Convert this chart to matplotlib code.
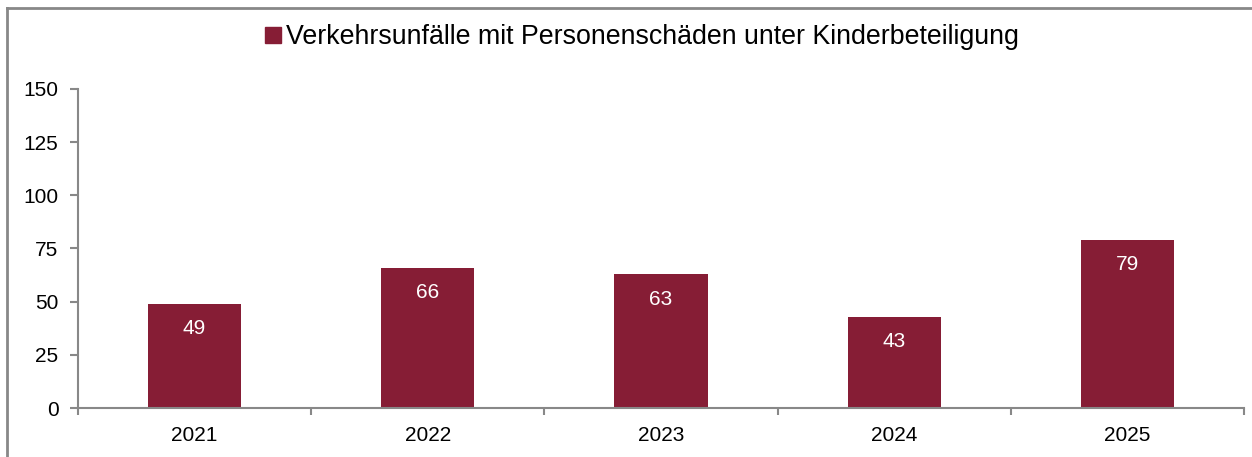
import matplotlib.pyplot as plt
from matplotlib.lines import Line2D
import numpy as np

plt.rcParams['font.family'] = ['Liberation Sans', 'DejaVu Sans']

years = ['2021', '2022', '2023', '2024', '2025']
accidents = [49, 66, 63, 43, 79]
series_name = 'Verkehrsunfälle mit Personenschäden unter Kinderbeteiligung'
bar_color = '#861D35'
grey = '#888888'

W, H = 1252, 457
fig = plt.figure(figsize=(W / 100, H / 100), dpi=100)
ax = fig.add_axes([78 / W, 1 - 408 / H, (1244 - 78) / W, (408 - 89) / H])

x = np.arange(len(years))
bars = ax.bar(x, accidents, width=0.4, color=bar_color, label=series_name)

for xi, v in zip(x, accidents):
    ax.annotate(str(v), (xi, v), xytext=(0, -25), textcoords='offset pixels',
                ha='center', va='center', color='white', fontsize=15)

ax.set_xlim(-0.5, len(years) - 0.5)
ax.set_ylim(0, 150)
ax.set_yticks(range(0, 151, 25))
ax.set_xticks(x)
ax.set_xticklabels(years)
ax.set_xticks(np.arange(-0.5, len(years)), minor=True)
ax.tick_params(axis='x', which='major', length=0, pad=13, labelsize=15)
ax.tick_params(axis='x', which='minor', length=5, color=grey, width=1.5)
ax.tick_params(axis='y', length=6, color=grey, width=1.5, pad=8, labelsize=15)

for s in ['top', 'right']:
    ax.spines[s].set_visible(False)
for s in ['left', 'bottom']:
    ax.spines[s].set_color(grey)
    ax.spines[s].set_linewidth(1.5)

fig.legend(handles=[Line2D([], [], marker='s', color=bar_color, linestyle='none', markersize=11)],
           labels=[series_name], loc='center', bbox_to_anchor=(640 / W, 1 - 37 / H),
           frameon=False, fontsize=19.3, handletextpad=0.05, handlelength=0.9)

# outer frame (only top and left edge visible)
fig.add_artist(Line2D([7 / W, 7 / W], [0, 1 - 7.5 / H], transform=fig.transFigure,
                      color=grey, linewidth=2))
fig.add_artist(Line2D([7 / W, 1], [1 - 7.5 / H, 1 - 7.5 / H], transform=fig.transFigure,
                      color=grey, linewidth=2))

fig.savefig('out.png', dpi=100)
